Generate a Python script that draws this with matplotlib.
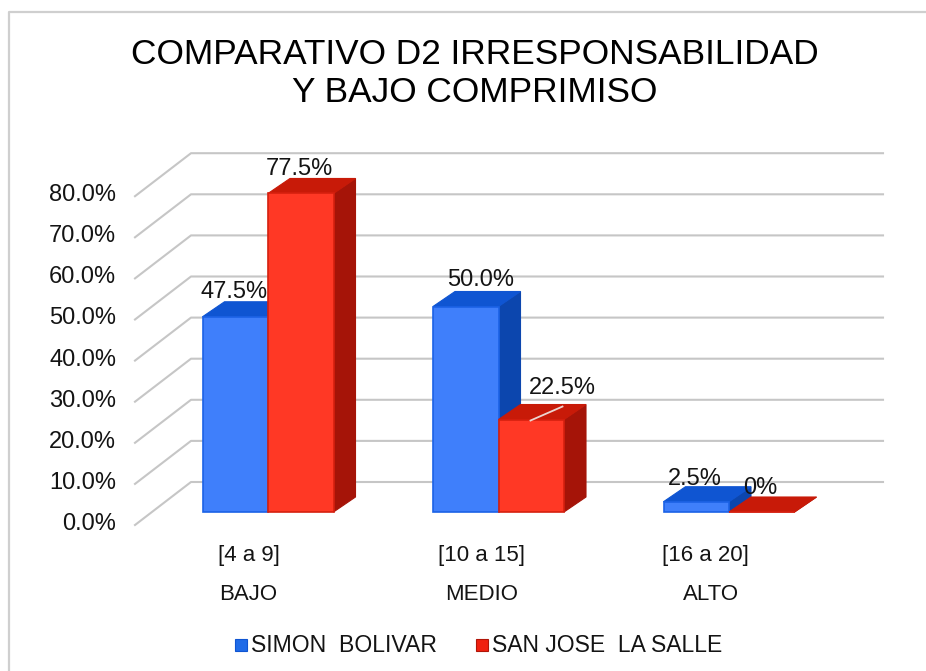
import matplotlib
matplotlib.use('Agg')
import matplotlib.pyplot as plt
from matplotlib.patches import Polygon, Rectangle

plt.rcParams['font.family'] = ['Liberation Sans', 'DejaVu Sans']

# Data
categories = ['BAJO', 'MEDIO', 'ALTO']
ranges = ['[4 a 9]', '[10 a 15]', '[16 a 20]']
simon_bolivar = [47.5, 50.0, 2.5]
san_jose = [77.5, 22.5, 0.0]
simon_labels = ['47.5%', '50.0%', '2.5%']
san_jose_labels = ['77.5%', '22.5%', '0%']
y_ticks = [0, 10, 20, 30, 40, 50, 60, 70, 80]

W, H = 926, 671
CAT_PX = 230.5   # pixels per category
VAL_PX = 4.11    # pixels per percent
X0_PX, Y0_PX = 268, 512   # category 0 / value 0 at bar front

fig = plt.figure(figsize=(W / 100, H / 100), dpi=100)
ax = fig.add_axes([0, 0, 1, 1])
ax.set_xlim(-X0_PX / CAT_PX, (W - X0_PX) / CAT_PX)
ax.set_ylim((Y0_PX - H) / VAL_PX, Y0_PX / VAL_PX)
ax.set_axis_off()

# depth offsets in data units
bar_w = 65.5 / CAT_PX
bar_dx, bar_dy = 22 / CAT_PX, 15 / VAL_PX
wall_front_x = (135 - X0_PX) / CAT_PX
wall_back_x = (191 - X0_PX) / CAT_PX
wall_end_x = (883 - X0_PX) / CAT_PX
wall_front_y = -13 / VAL_PX
wall_back_y = 30 / VAL_PX

grid_color = '#c6c6c6'
text_color = '#141414'

# chart border, only left and top show in the crop
ax.plot([(9 - X0_PX) / CAT_PX, (9 - X0_PX) / CAT_PX, (W - X0_PX) / CAT_PX],
        [(Y0_PX - H) / VAL_PX, (Y0_PX - 12) / VAL_PX, (Y0_PX - 12) / VAL_PX],
        color='#cfcfcf', lw=1.6, zorder=1)

# walls and ticks
for t in y_ticks:
    ax.plot([wall_front_x, wall_back_x, wall_end_x],
            [t + wall_front_y, t + wall_back_y, t + wall_back_y],
            color=grid_color, lw=1.5, zorder=1)
    ax.text(wall_front_x - 19 / CAT_PX, t + wall_front_y + 1 / VAL_PX, '%.1f%%' % t,
            ha='right', va='center', fontsize=17, color=text_color)


def draw_bar(x, val, front, top, side, edge):
    left = x
    right = x + bar_w
    ax.add_patch(Polygon([(right, 0), (right + bar_dx, bar_dy),
                          (right + bar_dx, val + bar_dy), (right, val)],
                         fc=side, ec=side, lw=0.8, zorder=3))
    ax.add_patch(Polygon([(left, val), (left + bar_dx, val + bar_dy),
                          (right + bar_dx, val + bar_dy), (right, val)],
                         fc=top, ec=top, lw=0.8, zorder=3))
    ax.add_patch(Rectangle((left, 0), bar_w, val, fc=front, ec=edge, lw=1.2, zorder=3))


for i in range(len(categories)):
    draw_bar(i - bar_w, simon_bolivar[i], '#3f7ffb', '#0f55d2', '#0c46ae', '#1b62e6')
    draw_bar(i, san_jose[i], '#ff3825', '#c81a08', '#a51408', '#d6200f')

# data labels, offsets in pixels from the bar's front top centre
simon_off = [(-1, 24.3), (15, 26.5), (-1, 22.7)]
san_jose_off = [(-1, 24), (31, 31.5), (-2, 24)]
for i in range(len(categories)):
    ax.text(i - bar_w / 2 + simon_off[i][0] / CAT_PX, simon_bolivar[i] + simon_off[i][1] / VAL_PX,
            simon_labels[i], ha='center', va='center', fontsize=17, color=text_color, zorder=5)
    ax.text(i + bar_w / 2 + san_jose_off[i][0] / CAT_PX, san_jose[i] + san_jose_off[i][1] / VAL_PX,
            san_jose_labels[i], ha='center', va='center', fontsize=17, color=text_color, zorder=5)

# leader line on the 22.5% label
ax.plot([1 + 32 / CAT_PX, 1 + 64 / CAT_PX],
        [san_jose[1] - 1 / VAL_PX, san_jose[1] + 13 / VAL_PX],
        color='#ecd5d0', lw=1.3, zorder=4)

# category labels
range_off = [-19, -17, -24]
cat_off = [-20, -17, -18]
for i in range(len(categories)):
    ax.text(i + range_off[i] / CAT_PX, -43 / VAL_PX, ranges[i], ha='center', va='center',
            fontsize=16, color=text_color)
    ax.text(i + cat_off[i] / CAT_PX, -82 / VAL_PX, categories[i], ha='center', va='center',
            fontsize=16, color=text_color)

# title
fig.text(474.5 / W, 1 - 55 / H, 'COMPARATIVO D2 IRRESPONSABILIDAD', ha='center', va='center',
         fontsize=25.4, color='black')
fig.text(474.5 / W, 1 - 92.5 / H, 'Y BAJO COMPRIMISO', ha='center', va='center',
         fontsize=25.4, color='black')

# legend
legend_y = (Y0_PX - 645) / VAL_PX
leg_size = 12 / CAT_PX, 12 / VAL_PX
ax.add_patch(Rectangle(((235 - X0_PX) / CAT_PX, legend_y - leg_size[1] / 2), *leg_size,
                       fc='#1f6be8', ec='#0f55d2', lw=0.8, zorder=3))
ax.text((251 - X0_PX) / CAT_PX, legend_y, 'SIMON  BOLIVAR', ha='left', va='center',
        fontsize=16.6, color=text_color)
ax.add_patch(Rectangle(((476 - X0_PX) / CAT_PX, legend_y - leg_size[1] / 2), *leg_size,
                       fc='#f0200f', ec='#b01508', lw=0.8, zorder=3))
ax.text((492 - X0_PX) / CAT_PX, legend_y, 'SAN JOSE  LA SALLE', ha='left', va='center',
        fontsize=16.5, color=text_color)

fig.savefig('out.png', dpi=100)
